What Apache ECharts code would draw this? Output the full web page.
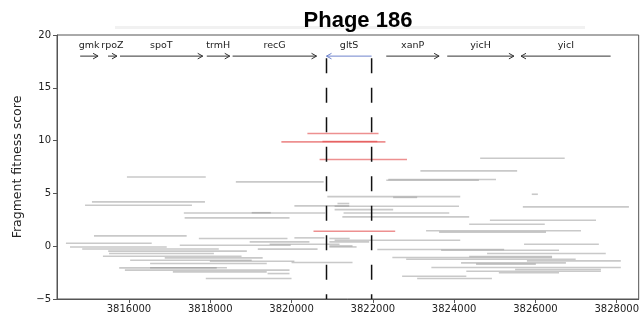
<!DOCTYPE html>
<html><head><meta charset="utf-8">
<script src="https://cdn.jsdelivr.net/npm/echarts@6/dist/echarts.min.js"></script>
<style>html,body{margin:0;padding:0;background:#fff}#c{width:642px;height:331px}</style>
</head><body><div id="c"></div>
<script>
const xTicks = [3816000, 3818000, 3820000, 3822000, 3824000, 3826000, 3828000];
const yTicks = [-5, 0, 5, 10, 15, 20];

// [start, end, fitness score]
const grayFragments = [
  [3824640,3826720,8.33],[3823170,3825550,7.13],[3815950,3817890,6.56],[3822380,3825030,6.32],
  [3822330,3824610,6.25],[3818630,3820790,6.09],[3820880,3824150,4.69],[3822500,3823090,4.62],
  [3825910,3826060,4.92],[3815090,3817870,4.20],[3821130,3821420,4.04],[3814920,3817550,3.88],
  [3820070,3821420,3.82],[3821060,3824120,3.79],[3825690,3828300,3.72],[3821060,3822500,3.46],
  [3817350,3820830,3.15],[3819020,3819490,3.17],[3821280,3823880,3.15],[3821250,3824370,2.78],
  [3817370,3819950,2.68],[3824880,3827490,2.46],[3824370,3826230,2.08],[3823310,3827120,1.47],
  [3823630,3826260,1.33],[3815140,3817420,0.98],[3820070,3820810,0.79],[3817720,3819900,0.73],
  [3820930,3821430,0.73],[3821060,3824150,0.57],[3818970,3820440,0.41],[3820930,3821910,0.41],
  [3814450,3816560,0.28],[3819460,3821180,0.19],[3825720,3827560,0.19],[3817250,3819980,0.09],
  [3820930,3821500,0.03],[3814550,3816930,-0.07],[3820930,3821600,-0.07],[3814850,3818210,-0.26],
  [3819170,3820640,-0.28],[3822110,3825230,-0.31],[3823680,3826580,-0.38],[3815490,3818900,-0.47],
  [3815510,3818090,-0.69],[3824810,3827730,-0.69],[3815360,3818770,-0.95],[3824370,3826410,-0.98],
  [3822480,3826410,-1.07],[3816880,3819290,-1.11],[3822820,3826990,-1.23],[3816030,3819020,-1.33],
  [3825790,3828100,-1.39],[3817990,3820070,-1.42],[3820000,3821500,-1.54],[3824170,3826750,-1.58],
  [3816520,3819390,-1.64],[3824540,3826010,-1.70],[3823440,3828100,-2.02],[3816520,3818410,-2.04],
  [3815760,3818160,-2.05],[3825500,3827610,-2.21],[3815900,3819950,-2.27],[3824300,3827610,-2.37],
  [3817080,3819390,-2.43],[3825100,3826580,-2.51],[3819410,3819950,-2.59],[3822720,3824300,-2.84],
  [3817890,3820000,-3.06],[3823090,3824930,-3.06]
];
const redFragments = [
  [3820390,3822140,10.67],[3819750,3822310,9.88],[3820760,3822110,9.92],
  [3820690,3822840,8.21],[3820540,3822550,1.42]
];

const geneNames  = ['gmk','rpoZ','spoT','trmH','recG','gltS','xanP','yicH','yicI'];
const geneStart  = [3814800,3815485,3815780,3817915,3818550,3820860,3822330,3823830,3825645];
const geneEnd    = [3815240,3815705,3817815,3818480,3820615,3821970,3823630,3825470,3827850];
const geneStrand = [1,1,1,1,1,-1,1,1,-1];
const focusGene = 'gltS';
const focusBounds = [3820860, 3821970];

const geneArrowY = 18.0, geneLabelY = 19.05, dashTop = 17.8;

const geneData = geneNames.map((n, i) => [geneStart[i], geneEnd[i], geneStrand[i]]);

function segRender(color, width) {
  return function (params, api) {
    const p1 = api.coord([api.value(0), api.value(2)]);
    const p2 = api.coord([api.value(1), api.value(2)]);
    return { type: 'line', shape: { x1: p1[0], y1: p1[1], x2: p2[0], y2: p2[1] },
             style: { stroke: color, lineWidth: width } };
  };
}

const chart = echarts.init(document.getElementById('c'), null, { renderer: 'canvas' });
chart.setOption({
  animation: false,
  backgroundColor: '#fff',
  grid: { left: 57, right: 2, top: 35, bottom: 32, show: true, borderColor: '#555', borderWidth: 1, backgroundColor: 'transparent' },
  graphic: [
    { type: 'rect', z: 0, shape: { x: 115, y: 26, width: 470, height: 3 }, style: { fill: '#f1f1f1' } },
    { type: 'text', z: 10, x: 358, y: 21, style: { text: 'Phage 186', align: 'center', verticalAlign: 'middle',
      font: 'bold 22px "Liberation Sans", Arial, sans-serif', fill: '#000' } }
  ],
  xAxis: {
    type: 'value', min: 3814230, max: 3828540,
    axisLine: { show: true, onZero: false, lineStyle: { color: '#555' } },
    axisTick: { show: true, length: 4, lineStyle: { color: '#555' }, customValues: xTicks },
    axisLabel: { customValues: xTicks, fontSize: 10, color: '#222', fontFamily: 'DejaVu Sans', margin: 5,
      formatter: v => String(Math.round(v)) },
    splitLine: { show: false }
  },
  yAxis: {
    type: 'value', min: -5, max: 20, interval: 5,
    name: 'Fragment fitness score', nameLocation: 'middle', nameRotate: 90, nameGap: 33,
    nameTextStyle: { fontSize: 12.5, color: '#222', fontFamily: 'DejaVu Sans' },
    axisLine: { show: true, onZero: false, lineStyle: { color: '#555' } },
    axisTick: { show: true, length: 4, lineStyle: { color: '#555' } },
    axisLabel: { fontSize: 10, color: '#222', fontFamily: 'DejaVu Sans', margin: 6,
      formatter: v => (v < 0 ? '\u2212' + Math.abs(v) : String(v)) },
    splitLine: { show: false }
  },
  series: [
    { type: 'custom', name: 'fragments', data: grayFragments, encode: { x: [0, 1], y: 2 },
      renderItem: segRender('rgba(135,135,135,0.45)', 1.6), z: 2 },
    { type: 'custom', name: 'gltS fragments', data: redFragments, encode: { x: [0, 1], y: 2 },
      renderItem: segRender('rgba(225,70,70,0.6)', 1.6), z: 3 },
    { type: 'custom', name: 'bounds', data: focusBounds.map(v => [v]), encode: { x: 0 },
      renderItem: function (params, api) {
        const top = api.coord([api.value(0), dashTop]);
        const bot = api.coord([api.value(0), -5]);
        return { type: 'line', shape: { x1: top[0], y1: top[1], x2: bot[0], y2: bot[1] },
                 style: { stroke: '#111', lineWidth: 1.5, lineDash: [15, 14.5] } };
      }, z: 4 },
    { type: 'custom', name: 'genes', data: geneData, encode: { x: [0, 1] },
      renderItem: function (params, api) {
        const i = params.dataIndex;
        const s = api.value(0), e = api.value(1), strand = api.value(2);
        const p1 = api.coord([s, geneArrowY]), p2 = api.coord([e, geneArrowY]);
        const tip = strand > 0 ? p2 : p1, d = strand > 0 ? -1 : 1;
        const color = geneNames[i] === focusGene ? '#6f84cc' : '#333';
        const mid = api.coord([(s + e) / 2, geneLabelY]);
        return { type: 'group', children: [
          { type: 'line', shape: { x1: p1[0], y1: p1[1], x2: p2[0], y2: p2[1] }, style: { stroke: color, lineWidth: 1 } },
          { type: 'polyline', shape: { points: [[tip[0] + d * 5, tip[1] - 2.8], [tip[0], tip[1]], [tip[0] + d * 5, tip[1] + 2.8]] },
            style: { stroke: color, fill: null, lineWidth: 1 } },
          { type: 'text', style: { text: geneNames[i], x: mid[0], y: mid[1], align: 'center', verticalAlign: 'middle',
            fontSize: 9.5, fontFamily: 'DejaVu Sans', fill: '#222' } }
        ] };
      }, z: 5 }
  ]
});
</script></body></html>
